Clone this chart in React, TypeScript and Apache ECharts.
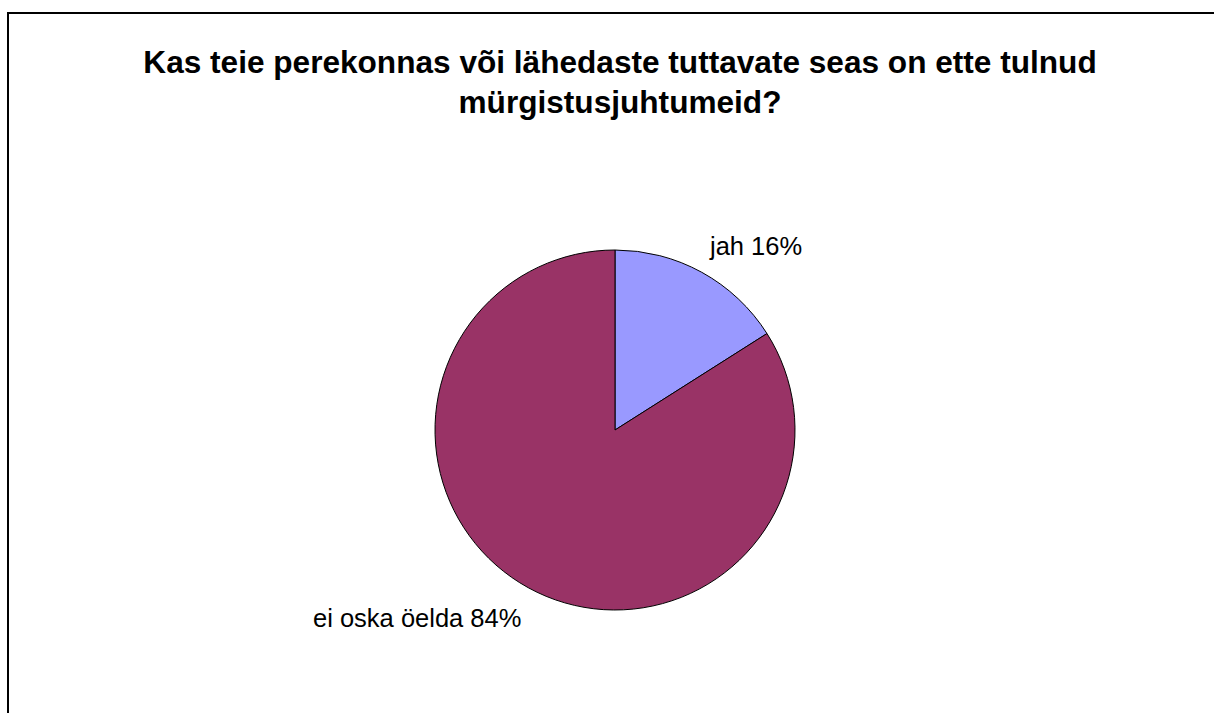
import React, { useEffect, useRef } from "react";
import * as echarts from "echarts";

const titleLines = [
  "Kas teie perekonnas või lähedaste tuttavate seas on ette tulnud",
  "mürgistusjuhtumeid?",
];
const categories = ["jah", "ei oska öelda"];
const values = [16, 84];
const colors = ["#9999FF", "#993366"];

export default function App() {
  const ref = useRef<HTMLDivElement>(null);
  useEffect(() => {
    document.documentElement.style.overflow = "hidden";
    document.body.style.overflow = "hidden";
    const chart = echarts.init(ref.current!, null, { renderer: "svg" });
    chart.setOption({
      animation: false,
      backgroundColor: "#ffffff",
      title: {
        text: titleLines.join("\n"),
        left: 615,
        top: 37,
        textAlign: "center",
        textStyle: {
          fontFamily: "Liberation Sans, Arial, sans-serif",
          fontWeight: "bold",
          fontSize: 31.6,
          lineHeight: 40,
          color: "#000",
        },
      },
      graphic: [
        {
          type: "line",
          shape: { x1: 7, y1: 13, x2: 1214, y2: 13 },
          style: { stroke: "#000", lineWidth: 2 },
        },
        {
          type: "line",
          shape: { x1: 8, y1: 12, x2: 8, y2: 713 },
          style: { stroke: "#000", lineWidth: 2 },
        },
      ],
      series: [
        {
          type: "pie",
          center: [615, 430],
          radius: 180,
          startAngle: 90,
          clockwise: true,
          data: categories.map((c, i) => ({
            name: c,
            value: values[i],
            itemStyle: { color: colors[i] },
          })),
          itemStyle: { borderColor: "#000", borderWidth: 1 },
          label: {
            show: true,
            position: "outside",
            formatter: "{b} {d}%",
            fontFamily: "Liberation Sans, Arial, sans-serif",
            fontSize: 25.5,
            color: "#000",
          },
          labelLine: { show: false },
          labelLayout: (params: any) => {
            if (params.dataIndex === 0) {
              return { x: 710, y: 246, align: "left", verticalAlign: "middle" };
            }
            return { x: 313, y: 618, align: "left", verticalAlign: "middle" };
          },
          emphasis: { disabled: true },
        },
      ],
    });
    return () => chart.dispose();
  }, []);
  return (
    <div
      ref={ref}
      style={{ position: "absolute", left: 0, top: 0, width: 1214, height: 713 }}
    />
  );
}
